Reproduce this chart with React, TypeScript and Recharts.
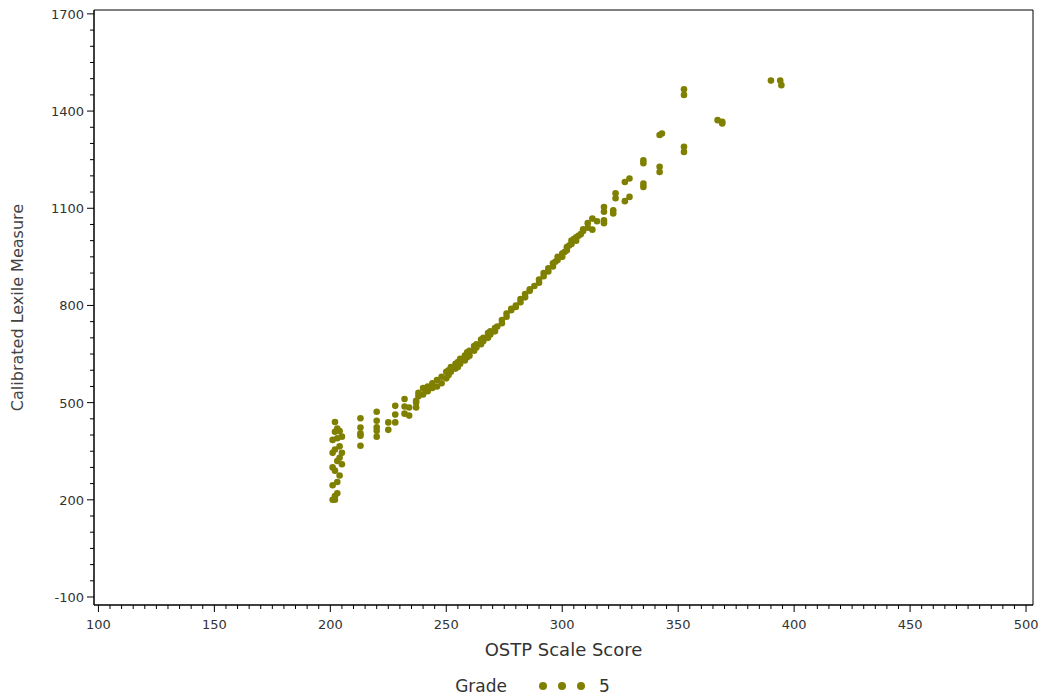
import React from 'react';
import { ScatterChart, Scatter, XAxis, YAxis, ReferenceArea } from 'recharts';

// OSTP scale score (x) and calibrated Lexile measure (y), grade 5
const ostpScores = [
  201, 202, 202, 203, 201, 203, 204, 202, 201, 205, 203, 204, 201, 205, 202, 204, 201, 203, 205, 202, 204, 203, 202,
  213, 213, 213, 213, 213,
  220, 220, 220, 220, 220,
  225, 225, 228, 228, 228, 232, 232, 232, 234, 234, 237, 237, 237,
  238, 238, 240, 240, 241, 242, 242, 244, 244, 246, 246, 248, 248, 250, 250, 251, 251, 252, 252,
  254, 254, 255, 255, 256, 256, 258, 258, 259, 259, 260, 260, 262, 262, 263, 263, 265, 265,
  266, 266, 268, 268, 269, 269, 271, 271, 272, 274, 274, 276, 276, 278, 278, 280, 280,
  282, 282, 284, 284, 286, 286, 288, 290, 290, 292, 292, 294, 294, 296, 296, 297, 298, 298,
  300, 300, 301, 302, 302, 303, 304, 304, 305, 306, 306, 307, 308, 309, 309, 311, 311,
  313, 313, 315, 318, 318, 318, 318, 322, 322, 323, 323, 327, 327, 329, 329,
  335, 335, 335, 335, 342, 342, 342, 343, 352.5, 352.5, 352.5, 352.5,
  367, 369, 369, 390, 394, 394.5,
];

const lexileMeasures = [
  200, 200, 212, 220, 245, 255, 275, 290, 300, 310, 320, 330, 345, 345, 355, 365, 385, 390, 395, 410, 412, 420, 440,
  367, 398, 405, 423, 452,
  472, 444, 424, 413, 395,
  439, 416, 490, 463, 439, 511, 488, 466, 485, 460, 506, 485, 500,
  520, 530, 525, 545, 538, 535, 550, 545, 560, 550, 570, 560, 580, 575, 595, 585, 600, 595, 610,
  605, 620, 610, 625, 620, 635, 630, 645, 640, 655, 645, 660, 660, 675, 670, 680, 680, 695,
  690, 700, 700, 715, 710, 720, 720, 730, 735, 745, 755, 765, 775, 785, 790, 795, 800,
  810, 820, 825, 835, 845, 850, 860, 870, 880, 890, 900, 905, 915, 920, 930, 935, 940, 950,
  950, 960, 965, 970, 980, 985, 990, 1000, 1005, 1000, 1010, 1015, 1020, 1030, 1035, 1040, 1054,
  1034, 1068, 1060, 1054, 1063, 1089, 1104, 1084, 1094, 1131, 1146, 1122, 1181, 1135, 1192,
  1166, 1176, 1239, 1248, 1212, 1228, 1326, 1331, 1274, 1290, 1450, 1467,
  1372, 1362, 1367, 1494, 1494, 1480,
];

const xMajorTicks = [100, 150, 200, 250, 300, 350, 400, 450, 500];
const yMajorTicks = [-100, 200, 500, 800, 1100, 1400, 1700];

const xTicks: number[] = [];
for (let v = 100; v <= 500; v += 5) xTicks.push(v);
const yTicks: number[] = [];
for (let v = -100; v <= 1700; v += 50) yTicks.push(v);

const X_DOMAIN: [number, number] = [98.1, 503];
const Y_DOMAIN: [number, number] = [-124.7, 1712];

const data = ostpScores.map((s, i) => ({ score: s, lexile: lexileMeasures[i] }));

const DOT = '#808000';
const FONT = '"DejaVu Sans", Verdana, sans-serif';

const XTick = (props: any) => {
  const { x, y, payload } = props;
  const major = xMajorTicks.includes(payload.value);
  return (
    <g>
      <line x1={x} x2={x} y1={y} y2={y + (major ? 7 : 4)} stroke="#000" />
      {major && (
        <text x={x} y={y + 24} textAnchor="middle" fontSize={13} fill="#333" fontFamily={FONT}>
          {payload.value}
        </text>
      )}
    </g>
  );
};

const YTick = (props: any) => {
  const { x, y, payload } = props;
  const major = yMajorTicks.includes(payload.value);
  return (
    <g>
      <line x1={x} x2={x - (major ? 7 : 4)} y1={y} y2={y} stroke="#000" />
      {major && (
        <text x={x - 10} y={y + 5} textAnchor="end" fontSize={13} fill="#333" fontFamily={FONT}>
          {payload.value}
        </text>
      )}
    </g>
  );
};

const Dot = (props: any) => <circle cx={props.cx} cy={props.cy} r={3.3} fill={DOT} />;

export default function App() {
  return (
    <div style={{ position: 'absolute', left: 0, top: 0, width: 1045, height: 698, background: '#fff' }}>
      <ScatterChart width={1045} height={698} margin={{ top: 10, right: 12, bottom: 0, left: 0 }}>
        <XAxis
          type="number"
          dataKey="score"
          domain={X_DOMAIN}
          allowDataOverflow
          ticks={xTicks}
          interval={0}
          tick={<XTick />}
          tickLine={false}
          tickSize={0}
          tickMargin={0}
          height={93}
          stroke="#000"
          label={{ value: 'OSTP Scale Score', position: 'insideTop', offset: 38, fontSize: 18, fill: '#333', fontFamily: FONT }}
        />
        <YAxis
          type="number"
          dataKey="lexile"
          domain={Y_DOMAIN}
          allowDataOverflow
          ticks={yTicks}
          interval={0}
          tick={<YTick />}
          tickLine={false}
          tickSize={0}
          tickMargin={0}
          width={94}
          stroke="#000"
          label={{ value: 'Calibrated Lexile Measure', angle: -90, position: 'insideLeft', offset: 17, fontSize: 16, fill: '#444', fontFamily: FONT, style: { textAnchor: 'middle' } }}
        />
        <ReferenceArea
          x1={X_DOMAIN[0]}
          x2={X_DOMAIN[1]}
          y1={Y_DOMAIN[0]}
          y2={Y_DOMAIN[1]}
          fill="none"
          stroke="#000"
          strokeWidth={1}
          ifOverflow="visible"
        />
        <Scatter data={data} fill={DOT} shape={<Dot />} isAnimationActive={false} />
      </ScatterChart>
      <div
        style={{
          position: 'absolute',
          top: 676,
          left: 0,
          width: 1045,
          paddingLeft: 20,
          boxSizing: 'border-box',
          display: 'flex',
          justifyContent: 'center',
          alignItems: 'center',
          fontFamily: FONT,
          fontSize: 17,
          color: '#333',
        }}
      >
        <span style={{ marginRight: 32 }}>Grade</span>
        {[0, 1, 2].map((i) => (
          <span key={i} style={{ width: 8, height: 8, borderRadius: 4, background: DOT, display: 'inline-block', marginRight: 11 }} />
        ))}
        <span style={{ marginLeft: 3 }}>5</span>
      </div>
    </div>
  );
}
